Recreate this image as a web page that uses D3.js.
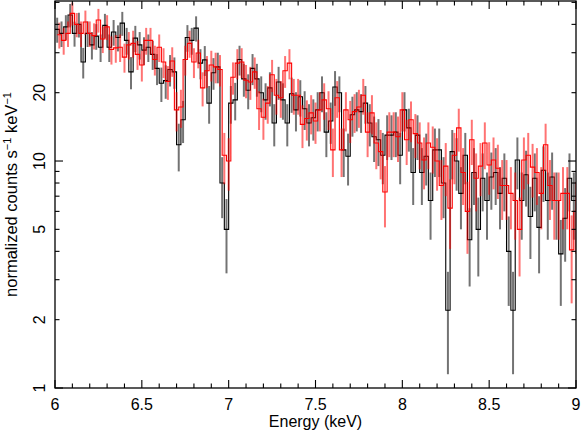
<!DOCTYPE html>
<html>
<head>
<meta charset="utf-8">
<script src="https://cdn.jsdelivr.net/npm/d3@7"></script>
<style>
  body { margin: 0; background: #fff; }
  svg { display: block; font-family: "Liberation Sans", Arial, Helvetica, sans-serif; }
</style>
</head>
<body>
<div id="chart"></div>
<script>
/**
 * DATA
 * */
const binWidth = 0.025; // keV

// black spectrum: bin low edges (keV), rate, 1-sigma error
const blackLow = [
  6, 6.025, 6.05, 6.075, 6.1, 6.125, 6.15, 6.175, 6.2, 6.225,
  6.25, 6.275, 6.3, 6.325, 6.35, 6.375, 6.4, 6.425, 6.45, 6.475,
  6.5, 6.525, 6.55, 6.575, 6.6, 6.625, 6.65, 6.675, 6.7, 6.725,
  6.75, 6.775, 6.8, 6.825, 6.85, 6.875, 6.9, 6.925, 6.95, 6.975,
  7, 7.025, 7.05, 7.075, 7.1, 7.125, 7.15, 7.175, 7.2, 7.225,
  7.25, 7.275, 7.3, 7.325, 7.35, 7.375, 7.4, 7.425, 7.45, 7.475,
  7.5, 7.525, 7.55, 7.575, 7.6, 7.625, 7.65, 7.675, 7.7, 7.725,
  7.75, 7.775, 7.8, 7.825, 7.85, 7.875, 7.9, 7.925, 7.95, 7.975,
  8, 8.025, 8.05, 8.075, 8.1, 8.125, 8.15, 8.175, 8.2, 8.225,
  8.25, 8.275, 8.3, 8.325, 8.35, 8.375, 8.4, 8.425, 8.45, 8.475,
  8.5, 8.525, 8.55, 8.575, 8.6, 8.625, 8.65, 8.675, 8.7, 8.725,
  8.75, 8.775, 8.8, 8.825, 8.85, 8.875, 8.9, 8.925, 8.95, 8.975
];
const blackRate = [
  38, 36.5, 39, 44, 36.5, 40, 27.3, 36.5, 32.5, 35.5,
  31.7, 39.6, 31.7, 37, 35, 40.5, 34, 24.7, 34.8, 32.5,
  30.8, 31.7, 29.5, 25.6, 22, 22.6, 25.3, 24.7, 11.8, 15.2,
  35, 34, 38.5, 27, 27.9, 18, 24.5, 26, 8, 5.0,
  18, 18.6, 28, 23, 20.5, 25.6, 23, 20, 18.6, 21,
  14.7, 22.3, 18.6, 14.7, 19.8, 16.8, 19.2, 17, 14.7, 15.5,
  16.8, 20, 13.4, 15, 21.2, 20, 11.2, 10.5, 16, 16.8,
  16.5, 18, 14.7, 12.8, 12.4, 10.6, 13, 13, 13.4, 10.6,
  16.8, 14, 8.9, 13, 8.9, 10.5, 6.7, 11.2, 11.2, 8,
  2.2, 11, 10, 7.2, 10.6, 4.5, 8.9, 5.0, 8.4, 6.7,
  8.5, 8.9, 7.2, 8.4, 4.0, 2.2, 10.1, 6.7, 8.7, 5.7,
  8.4, 5.1, 9.1, 6.7, 8.5, 6.7, 3.9, 5.6, 8.4, 6.7
];
const blackErr = [
  4.8, 4.7, 4.9, 5.2, 4.6, 5.0, 4.2, 4.7, 4.5, 4.6,
  4.4, 4.9, 4.4, 4.8, 4.6, 4.9, 4.6, 4.0, 4.6, 4.5,
  4.3, 4.4, 4.3, 4.0, 3.8, 3.8, 4.0, 3.9, 2.8, 3.2,
  4.7, 4.6, 4.9, 4.1, 4.2, 3.4, 3.9, 4.0, 2.4, 1.8,
  3.4, 3.5, 4.2, 3.8, 3.6, 4.0, 3.8, 3.6, 3.4, 3.6,
  3.1, 3.7, 3.4, 3.1, 3.5, 3.3, 3.5, 3.3, 3.1, 3.2,
  3.3, 3.6, 3.0, 3.1, 3.7, 3.6, 2.7, 2.7, 3.2, 3.3,
  3.2, 3.4, 3.1, 2.9, 2.9, 2.7, 2.9, 2.9, 3.0, 2.7,
  3.3, 3.0, 2.5, 2.9, 2.5, 2.7, 2.2, 2.7, 2.7, 2.4,
  1.05, 2.7, 2.6, 2.2, 2.7, 1.7, 2.5, 1.9, 2.4, 2.2,
  2.4, 2.5, 2.2, 2.4, 1.7, 1.05, 2.6, 2.2, 2.4, 2.0,
  2.4, 1.9, 2.5, 2.2, 2.4, 2.2, 1.6, 2.0, 2.4, 2.2
];

// red spectrum
const redLow = [
  6.0125, 6.0375, 6.0625, 6.0875, 6.1125, 6.1375, 6.1625, 6.1875, 6.2125, 6.2375,
  6.2625, 6.2875, 6.3125, 6.3375, 6.3625, 6.3875, 6.4125, 6.4375, 6.4625, 6.4875,
  6.5125, 6.5375, 6.5625, 6.5875, 6.6125, 6.6375, 6.6625, 6.6875, 6.7125, 6.7375,
  6.7625, 6.7875, 6.8125, 6.8375, 6.8625, 6.8875, 6.9125, 6.9375, 6.9625, 6.9875,
  7.0125, 7.0375, 7.0625, 7.0875, 7.1125, 7.1375, 7.1625, 7.1875, 7.2125, 7.2375,
  7.2625, 7.2875, 7.3125, 7.3375, 7.3625, 7.3875, 7.4125, 7.4375, 7.4625, 7.4875,
  7.5125, 7.5375, 7.5625, 7.5875, 7.6125, 7.6375, 7.6625, 7.6875, 7.7125, 7.7375,
  7.7625, 7.7875, 7.8125, 7.8375, 7.8625, 7.8875, 7.9125, 7.9375, 7.9625, 7.9875,
  8.0125, 8.0375, 8.0625, 8.0875, 8.1125, 8.1375, 8.1625, 8.1875, 8.2125, 8.2375,
  8.2625, 8.2875, 8.3125, 8.3375, 8.3625, 8.3875, 8.4125, 8.4375, 8.4625, 8.4875,
  8.5125, 8.5375, 8.5625, 8.5875, 8.6125, 8.6375, 8.6625, 8.6875, 8.7125, 8.7375,
  8.7625, 8.7875, 8.8125, 8.8375, 8.8625, 8.8875, 8.9125, 8.9375, 8.9625, 8.9875
];
const redRate = [
  36, 34, 36.5, 44.7, 40, 36.5, 41, 36.5, 35.7, 41.8,
  34.5, 39, 31, 31.5, 31.7, 28.7, 32.5, 33, 29.5, 26.5,
  34, 34, 28, 31.7, 27.3, 22.4, 27.6, 16.8, 17.3, 28,
  33, 27.3, 29.9, 21, 25, 26.5, 26, 25.3, 10.6, 10,
  23.4, 27, 27.3, 22.7, 22.3, 24.7, 17, 15.6, 18, 24,
  19.5, 19, 25, 27, 19.5, 19.5, 14.5, 15.4, 16.3, 15,
  16.8, 18.6, 17, 11.2, 19, 11.2, 16.8, 15.2, 16.5, 17.3,
  19.5, 13.4, 16.3, 12, 11, 7.3, 13.4, 13.4, 12.8, 16.8,
  12.4, 15.2, 13.2, 12, 10.1, 12, 11.5, 10, 7.8, 9.5,
  6.2, 10.6, 14, 8.9, 6, 12.4, 8.4, 9.5, 12, 9.6,
  10.1, 9.3, 7.8, 7.8, 7.2, 6.7, 5, 10.1, 10.6, 9.4,
  8.9, 7.2, 11.8, 7.8, 6.7, 6.7, 7.2, 7.2, 4.06, 6
];
const redErr = [
  4.7, 4.6, 4.7, 5.2, 4.9, 4.7, 5.0, 4.7, 4.7, 5.0,
  4.6, 4.9, 4.4, 4.4, 4.4, 4.2, 4.5, 4.5, 4.3, 4.1,
  4.6, 4.6, 4.2, 4.4, 4.1, 3.8, 4.1, 3.3, 3.3, 4.2,
  4.5, 4.1, 4.3, 3.6, 4.0, 4.1, 4.0, 4.0, 2.7, 2.6,
  3.8, 4.1, 4.1, 3.8, 3.7, 3.9, 3.3, 3.2, 3.4, 3.9,
  3.5, 3.5, 4.0, 4.1, 3.5, 3.5, 3.1, 3.1, 3.2, 3.1,
  3.3, 3.4, 3.3, 2.7, 3.5, 2.7, 3.3, 3.2, 3.2, 3.3,
  3.5, 3.0, 3.2, 2.8, 2.7, 2.2, 3.0, 3.0, 2.9, 3.3,
  2.8, 3.1, 2.9, 2.8, 2.6, 2.8, 2.7, 2.6, 2.3, 2.5,
  2.1, 2.7, 3.0, 2.5, 2.1, 2.8, 2.4, 2.5, 2.8, 2.5,
  2.6, 2.5, 2.3, 2.3, 2.2, 2.2, 1.9, 2.6, 2.7, 2.5,
  2.5, 2.2, 2.8, 2.3, 2.2, 2.2, 2.2, 2.2, 1.7, 2.1
];

const xTickLabels = [6, 6.5, 7, 7.5, 8, 8.5, 9];
const yTickLabels = [1, 2, 5, 10, 20];

/**
 * CONSTANTS
 * */
const width = 581,
  height = 432,
  margin = { top: 1, right: 5, bottom: 44, left: 55 };

const svg = d3.select("#chart")
  .append("svg")
  .attr("width", width)
  .attr("height", height);

const xScale = d3.scaleLinear()
  .domain([6, 9])
  .range([margin.left, width - margin.right]);

const yScale = d3.scaleLog()
  .domain([1, 50.7])
  .range([height - margin.bottom, margin.top]);

const x0 = xScale.range()[0], x1 = xScale.range()[1];
const y0 = yScale.range()[0], y1 = yScale.range()[1];

svg.append("clipPath")
  .attr("id", "plot-clip")
  .append("rect")
  .attr("x", x0)
  .attr("y", y1)
  .attr("width", x1 - x0)
  .attr("height", y0 - y1);

const plot = svg.append("g").attr("clip-path", "url(#plot-clip)");

// + SPECTRA
const series = [
  { low: blackLow, rate: blackRate, err: blackErr, color: "#000000" },
  { low: redLow, rate: redRate, err: redErr, color: "#ff0000" },
];

const stepLine = d3.line()
  .x(d => xScale(d[0]))
  .y(d => yScale(d[1]))
  .curve(d3.curveStepAfter);

series.forEach(s => {
  const bins = s.low.map((lo, i) => ({ lo, v: s.rate[i], e: s.err[i] }));
  const g = plot.append("g");

  // error bars
  g.selectAll("line.err")
    .data(bins)
    .join("line")
    .attr("class", "err")
    .attr("x1", d => xScale(d.lo + binWidth / 2))
    .attr("x2", d => xScale(d.lo + binWidth / 2))
    .attr("y1", d => yScale(Math.max(d.v - d.e, 0.5)))
    .attr("y2", d => yScale(d.v + d.e))
    .attr("stroke", s.color)
    .attr("stroke-width", 2)
    .attr("stroke-opacity", 0.55);

  // histogram steps
  const pts = bins.map(d => [d.lo, d.v]);
  const last = bins[bins.length - 1];
  pts.push([last.lo + binWidth, last.v]);

  g.append("path")
    .attr("d", stepLine(pts))
    .attr("fill", "none")
    .attr("stroke", s.color)
    .attr("stroke-width", 1.1);
});

// + AXES FRAME AND TICKS
const axis = svg.append("g").attr("stroke", "#000");

const xMinor = xScale.ticks(30);
xMinor.forEach(v => {
  const major = Math.abs(v * 2 - Math.round(v * 2)) < 1e-6;
  const len = major ? 8 : 4.5;
  const px = xScale(v);
  axis.append("line").attr("x1", px).attr("x2", px).attr("y1", y0).attr("y2", y0 - len);
  axis.append("line").attr("x1", px).attr("x2", px).attr("y1", y1).attr("y2", y1 + len);
});

const yMinor = yScale.ticks();
yMinor.forEach(v => {
  const major = Math.abs(Math.log10(v) - Math.round(Math.log10(v))) < 1e-6;
  const len = major ? 8 : 4.5;
  const py = yScale(v);
  axis.append("line").attr("x1", x0).attr("x2", x0 + len).attr("y1", py).attr("y2", py);
  axis.append("line").attr("x1", x1).attr("x2", x1 - len).attr("y1", py).attr("y2", py);
});

axis.selectAll("line").attr("stroke-width", 1.1);

svg.append("rect")
  .attr("x", x0)
  .attr("y", y1)
  .attr("width", x1 - x0)
  .attr("height", y0 - y1)
  .attr("fill", "none")
  .attr("stroke", "#000")
  .attr("stroke-width", 1.3);

// + TICK LABELS
svg.append("g")
  .selectAll("text")
  .data(xTickLabels)
  .join("text")
  .attr("x", d => xScale(d))
  .attr("y", y0 + 22)
  .attr("text-anchor", "middle")
  .attr("font-size", 16)
  .text(d => d);

svg.append("g")
  .selectAll("text")
  .data(yTickLabels)
  .join("text")
  .attr("transform", d => `translate(${x0 - 10},${yScale(d)}) rotate(-90)`)
  .attr("text-anchor", "middle")
  .attr("font-size", 16)
  .text(d => d);

// + AXIS TITLES
svg.append("text")
  .attr("x", (x0 + x1) / 2)
  .attr("y", height - 5)
  .attr("text-anchor", "middle")
  .attr("font-size", 16)
  .text("Energy (keV)");

const yTitle = svg.append("text")
  .attr("transform", `translate(17,${(y0 + y1) / 2}) rotate(-90)`)
  .attr("text-anchor", "middle")
  .attr("font-size", 16.5);
yTitle.append("tspan").text("normalized counts s");
yTitle.append("tspan").attr("font-size", 11).attr("dy", -6).text("−1");
yTitle.append("tspan").attr("dy", 6).text(" keV");
yTitle.append("tspan").attr("font-size", 11).attr("dy", -6).text("−1");
</script>
</body>
</html>
